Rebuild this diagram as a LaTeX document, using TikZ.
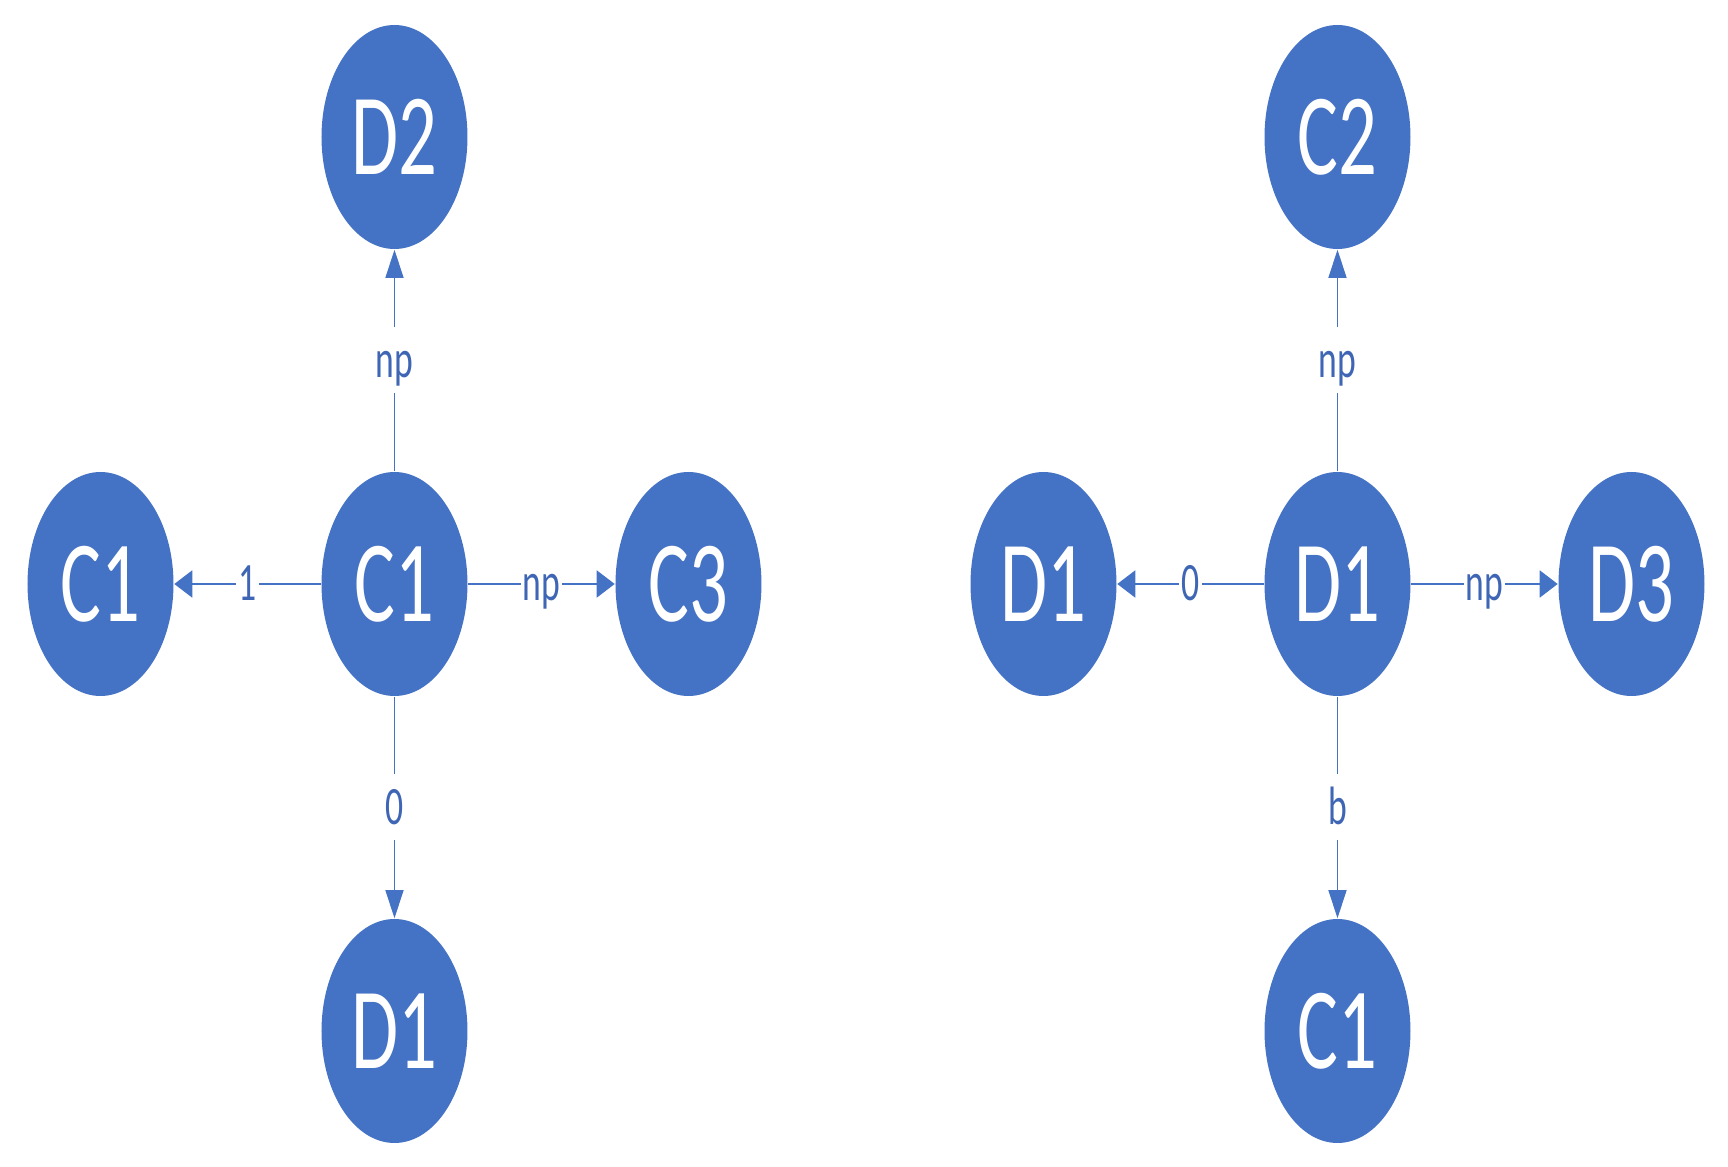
\documentclass[tikz,border=0pt]{standalone}
\usepackage{fontspec}
\newfontfamily\narrowfont[FakeStretch=0.66]{Carlito}
\usetikzlibrary{shapes.geometric,arrows.meta,positioning}
\definecolor{myblue}{HTML}{4472C4}
\definecolor{labblue}{HTML}{3F66B5}

\begin{document}
\begin{tikzpicture}[node distance=111.75pt and 73.5pt, on grid,
	vert/.style={ellipse,fill=myblue,minimum width=36.5pt,minimum height=56pt,inner sep=0pt,
		text=white,font=\narrowfont\fontsize{29}{29}\selectfont},
	link/.style={draw=myblue,line width=0.4pt,-{Triangle[length=7pt,width=4.5pt]}},
	hlink/.style={draw=myblue,line width=0.5pt,-{Triangle[length=4.5pt,width=6.75pt]}},
	lab/.style={fill=white,text=labblue,inner xsep=0.5pt,inner ysep=4pt,text height=8.5pt,text depth=0pt,
		font=\narrowfont\fontsize{13.5}{13.5}\selectfont}]
	\useasboundingbox (-98.625pt,-145.75pt) rectangle (333.375pt,146pt);
	% left graph
	\node[vert] (a0) {C1};
		\node[vert,above=of a0] (a1) {D2};
		\node[vert,left=of a0] (a2) {C1};
		\node[vert,right=of a0] (a3) {C3};
		\node[vert,below=of a0] (a4) {D1};
	% right graph
	\node[vert,right=235.75pt of a0] (b0) {D1};
		\node[vert,above=of b0] (b1) {C2};
		\node[vert,left=of b0] (b2) {D1};
		\node[vert,right=of b0] (b3) {D3};
		\node[vert,below=of b0] (b4) {C1};
	\draw[link] (a0) -- node[lab]{np} (a1);
	\draw[hlink] (a0) -- node[lab]{1} (a2);
	\draw[hlink] (a0) -- node[lab]{np} (a3);
	\draw[link] (a0) -- node[lab]{0} (a4);
	\draw[link] (b0) -- node[lab]{np} (b1);
	\draw[hlink] (b0) -- node[lab]{0} (b2);
	\draw[hlink] (b0) -- node[lab]{np} (b3);
	\draw[link] (b0) -- node[lab]{b} (b4);
\end{tikzpicture}
\end{document}
